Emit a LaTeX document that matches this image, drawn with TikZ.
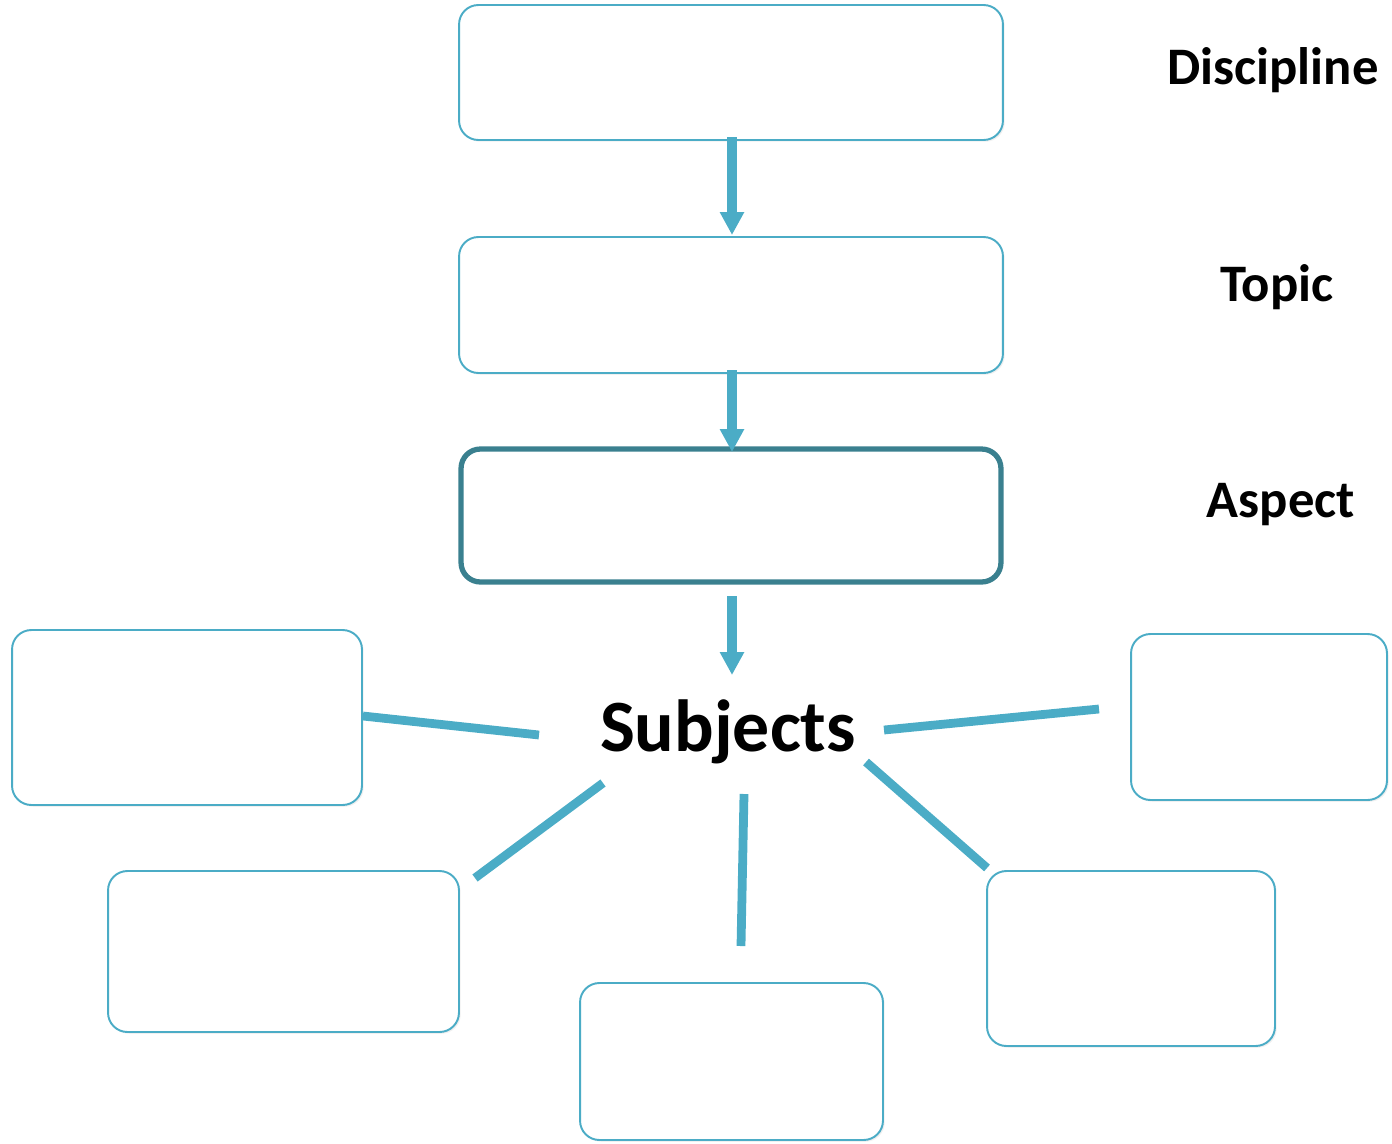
\documentclass[tikz,border=0pt]{standalone}
\usepackage{fontspec}
\setmainfont{Carlito}
\usetikzlibrary{arrows.meta,shadows}

\definecolor{lightteal}{HTML}{4BACC6}
\definecolor{darkteal}{HTML}{3A808F}

\tikzset{
  box/.style={draw=lightteal, line width=1.1pt, rounded corners=11pt, fill=white,
    inner sep=0pt, drop shadow={opacity=0.12, shadow xshift=1pt, shadow yshift=-1pt}},
  mainbox/.style={box, draw=darkteal, line width=3pt},
  label/.style={font=\bfseries\fontsize{30}{30}\selectfont, inner sep=0pt},
  downarrow/.style={draw=lightteal, line width=5.7pt, -{Triangle[width=13pt,length=13pt]}},
  spoke/.style={draw=lightteal, line width=5pt}
}

\begin{document}
\begin{tikzpicture}[x=0.02cm, y=-0.02cm]
    \useasboundingbox (0,0) rectangle (1392,1143);

    % Chain of boxes
    \node[box, minimum width=10.88cm, minimum height=2.7cm] (disc) at (731,72.5) {};
    \node[box, minimum width=10.88cm, minimum height=2.72cm] (topic) at (731,305) {};
    \node[mainbox, minimum width=10.8cm, minimum height=2.66cm] (aspect) at (731,515.5) {};

    % Labels on the right
    \node[label] (ldisc) at (1273,70) {Discipline};
    \node[label] (ltopic) at (1277,287) {Topic};
    \node[label] (laspect) at (1281,505) {Aspect};

    % Centre word
    \node[font=\bfseries\fontsize{42}{42}\selectfont, inner sep=0pt] (subj) at (728,732) {Subjects};

    % Boxes round the centre
    \node[box, minimum width=7cm, minimum height=3.5cm] (sl) at (187,717.5) {};
    \node[box, minimum width=5.12cm, minimum height=3.32cm] (sr) at (1259,717) {};
    \node[box, minimum width=7.02cm, minimum height=3.22cm] (sbl) at (283.5,951.5) {};
    \node[box, minimum width=6.06cm, minimum height=3.14cm] (sbc) at (731.5,1061.5) {};
    \node[box, minimum width=5.76cm, minimum height=3.5cm] (sbr) at (1131,958.5) {};

    % Arrows
    \coordinate (a1s) at (732,137);
    \coordinate (a1e) at (732,235);
    \coordinate (a2s) at (732,370);
    \coordinate (a2e) at (732,452);
    \coordinate (a3s) at (732,596);
    \coordinate (a3e) at (732,675);
    \draw[downarrow] (a1s) -- (a1e);
    \draw[downarrow] (a2s) -- (a2e);
    \draw[downarrow] (a3s) -- (a3e);

    % Spokes
    \coordinate (pl) at (539,735);
    \coordinate (pr1) at (884,730);
    \coordinate (pr2) at (1099,709);
    \coordinate (pbl1) at (603,783);
    \coordinate (pbl2) at (475,878);
    \coordinate (pbc1) at (744,794);
    \coordinate (pbc2) at (741,946);
    \coordinate (pbr1) at (866,762);
    \coordinate (pbr2) at (987,868);
    \draw[spoke] (sl.east) ++(0,-1.5) -- (pl);
    \draw[spoke] (pr1) -- (pr2);
    \draw[spoke] (pbl1) -- (pbl2);
    \draw[spoke] (pbc1) -- (pbc2);
    \draw[spoke] (pbr1) -- (pbr2);
\end{tikzpicture}
\end{document}
